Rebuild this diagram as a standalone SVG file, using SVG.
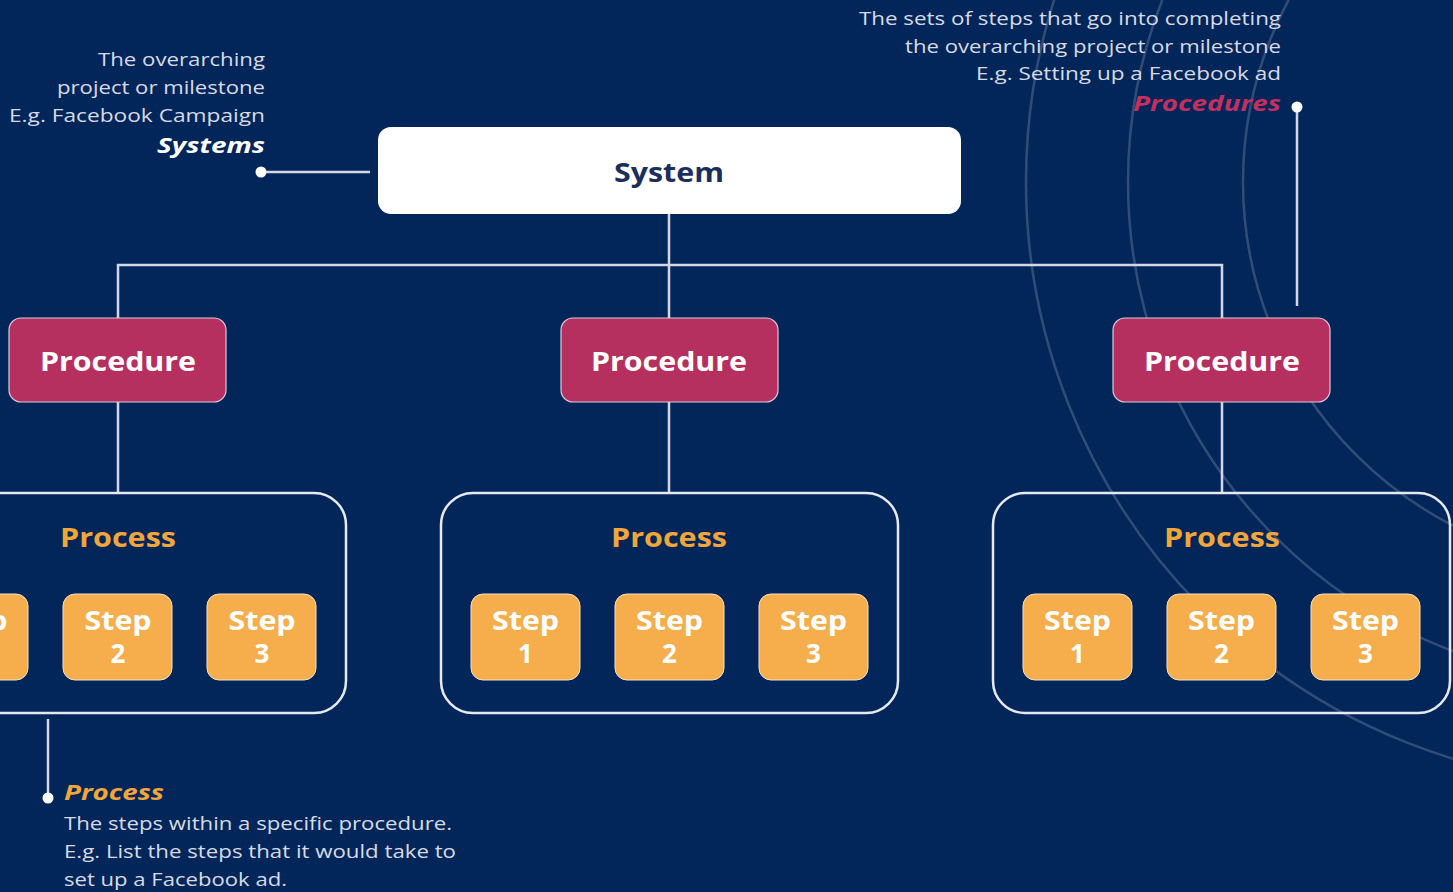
<svg xmlns="http://www.w3.org/2000/svg" width="1453" height="892" viewBox="0 0 1453 892">
<style>
.bg{fill:#03265a}
.arc{fill:none;stroke:#ffffff;stroke-opacity:0.18;stroke-width:2.5}
.conn{fill:none;stroke:#d3d8e4;stroke-width:2.5}
.dot{fill:#ffffff}
.sys{fill:#ffffff}
.proc{fill:#b5305f;stroke:#d9c9d6;stroke-width:1.2}
.pbox{fill:none;stroke:#e6e9f0;stroke-width:2.5}
.step{fill:#f5ae4b;stroke:#f3e2c6;stroke-width:1}
.lbl{font-family:"Open Sans","Liberation Sans",sans-serif;font-weight:700;text-anchor:middle}
.note{font-family:"Open Sans","Liberation Sans",sans-serif;font-size:18.5px;fill:#d7dbe5}
.title{font-family:"Open Sans","Liberation Sans",sans-serif;font-weight:700;font-style:italic;font-size:22px}
</style>
<rect class="bg" x="0" y="0" width="1453" height="892"/>
<g id="decor">
<circle class="arc" cx="1629" cy="182" r="603"/>
<circle class="arc" cx="1629" cy="182" r="501"/>
<circle class="arc" cx="1629" cy="182" r="386"/>
</g>
<g id="connectors">
<path class="conn" d="M669 214 V265 M118 318 V265 H1222 V318 M669 265 V318"/>
<path class="conn" d="M118 402 V493 M669 402 V493 M1222 402 V493"/>
<path class="conn" d="M261 172 H370"/>
<circle class="dot" cx="261" cy="172" r="5.5"/>
<path class="conn" d="M1297 107 V306"/>
<circle class="dot" cx="1297" cy="107" r="5.5"/>
<path class="conn" d="M48 719 V798"/>
<circle class="dot" cx="48" cy="798" r="5.5"/>
</g>
<g id="system">
<rect class="sys" x="378" y="127" width="583" height="87" rx="13"/>
<text class="lbl" x="669" y="182" font-size="27" fill="#1c2f5c" textLength="110" lengthAdjust="spacingAndGlyphs">System</text>
</g>
<g id="procedure-1">
<rect class="proc" x="9" y="318" width="217" height="84" rx="12"/>
<text class="lbl" x="118" y="371" font-size="27" fill="#ffffff" textLength="156" lengthAdjust="spacingAndGlyphs">Procedure</text>
</g>
<g id="procedure-2">
<rect class="proc" x="561" y="318" width="217" height="84" rx="12"/>
<text class="lbl" x="669" y="371" font-size="27" fill="#ffffff" textLength="156" lengthAdjust="spacingAndGlyphs">Procedure</text>
</g>
<g id="procedure-3">
<rect class="proc" x="1113" y="318" width="217" height="84" rx="12"/>
<text class="lbl" x="1222" y="371" font-size="27" fill="#ffffff" textLength="156" lengthAdjust="spacingAndGlyphs">Procedure</text>
</g>
<g id="process-1">
<rect class="pbox" x="-110" y="493" width="456" height="220" rx="32"/>
<text class="lbl" x="118" y="547" font-size="27" fill="#f0a63a" textLength="116" lengthAdjust="spacingAndGlyphs">Process</text>
<rect class="step" x="-81" y="594" width="109" height="86" rx="12"/>
<text class="lbl" x="-26" y="630" font-size="26" fill="#ffffff" textLength="67" lengthAdjust="spacingAndGlyphs">Step</text>
<text class="lbl" x="-26" y="663" font-size="26" fill="#ffffff">1</text>
<rect class="step" x="63" y="594" width="109" height="86" rx="12"/>
<text class="lbl" x="118" y="630" font-size="26" fill="#ffffff" textLength="67" lengthAdjust="spacingAndGlyphs">Step</text>
<text class="lbl" x="118" y="663" font-size="26" fill="#ffffff">2</text>
<rect class="step" x="207" y="594" width="109" height="86" rx="12"/>
<text class="lbl" x="262" y="630" font-size="26" fill="#ffffff" textLength="67" lengthAdjust="spacingAndGlyphs">Step</text>
<text class="lbl" x="262" y="663" font-size="26" fill="#ffffff">3</text>
</g>
<g id="process-2">
<rect class="pbox" x="441" y="493" width="457" height="220" rx="32"/>
<text class="lbl" x="669" y="547" font-size="27" fill="#f0a63a" textLength="116" lengthAdjust="spacingAndGlyphs">Process</text>
<rect class="step" x="471" y="594" width="109" height="86" rx="12"/>
<text class="lbl" x="525.5" y="630" font-size="26" fill="#ffffff" textLength="67" lengthAdjust="spacingAndGlyphs">Step</text>
<text class="lbl" x="525.5" y="663" font-size="26" fill="#ffffff">1</text>
<rect class="step" x="615" y="594" width="109" height="86" rx="12"/>
<text class="lbl" x="669.5" y="630" font-size="26" fill="#ffffff" textLength="67" lengthAdjust="spacingAndGlyphs">Step</text>
<text class="lbl" x="669.5" y="663" font-size="26" fill="#ffffff">2</text>
<rect class="step" x="759" y="594" width="109" height="86" rx="12"/>
<text class="lbl" x="813.5" y="630" font-size="26" fill="#ffffff" textLength="67" lengthAdjust="spacingAndGlyphs">Step</text>
<text class="lbl" x="813.5" y="663" font-size="26" fill="#ffffff">3</text>
</g>
<g id="process-3">
<rect class="pbox" x="993" y="493" width="457" height="220" rx="32"/>
<text class="lbl" x="1222" y="547" font-size="27" fill="#f0a63a" textLength="116" lengthAdjust="spacingAndGlyphs">Process</text>
<rect class="step" x="1023" y="594" width="109" height="86" rx="12"/>
<text class="lbl" x="1077.5" y="630" font-size="26" fill="#ffffff" textLength="67" lengthAdjust="spacingAndGlyphs">Step</text>
<text class="lbl" x="1077.5" y="663" font-size="26" fill="#ffffff">1</text>
<rect class="step" x="1167" y="594" width="109" height="86" rx="12"/>
<text class="lbl" x="1221.5" y="630" font-size="26" fill="#ffffff" textLength="67" lengthAdjust="spacingAndGlyphs">Step</text>
<text class="lbl" x="1221.5" y="663" font-size="26" fill="#ffffff">2</text>
<rect class="step" x="1311" y="594" width="109" height="86" rx="12"/>
<text class="lbl" x="1365.5" y="630" font-size="26" fill="#ffffff" textLength="67" lengthAdjust="spacingAndGlyphs">Step</text>
<text class="lbl" x="1365.5" y="663" font-size="26" fill="#ffffff">3</text>
</g>
<g id="note-systems">
<text class="note" x="265" y="66" text-anchor="end" textLength="167" lengthAdjust="spacingAndGlyphs">The overarching</text>
<text class="note" x="265" y="94" text-anchor="end" textLength="208" lengthAdjust="spacingAndGlyphs">project or milestone</text>
<text class="note" x="265" y="122" text-anchor="end" textLength="256" lengthAdjust="spacingAndGlyphs">E.g. Facebook Campaign</text>
<text class="title" x="265" y="153" text-anchor="end" fill="#ffffff" textLength="108" lengthAdjust="spacingAndGlyphs">Systems</text>
</g>
<g id="note-procedures">
<text class="note" x="1281" y="25" text-anchor="end" textLength="422" lengthAdjust="spacingAndGlyphs">The sets of steps that go into completing</text>
<text class="note" x="1281" y="53" text-anchor="end" textLength="376" lengthAdjust="spacingAndGlyphs">the overarching project or milestone</text>
<text class="note" x="1281" y="80" text-anchor="end" textLength="305" lengthAdjust="spacingAndGlyphs">E.g. Setting up a Facebook ad</text>
<text class="title" x="1281" y="111" text-anchor="end" fill="#c2305f" textLength="148" lengthAdjust="spacingAndGlyphs">Procedures</text>
</g>
<g id="note-process">
<text class="title" x="64" y="800" fill="#f0a63a" textLength="100" lengthAdjust="spacingAndGlyphs">Process</text>
<text class="note" x="64" y="830" textLength="388" lengthAdjust="spacingAndGlyphs">The steps within a specific procedure.</text>
<text class="note" x="64" y="858" textLength="392" lengthAdjust="spacingAndGlyphs">E.g. List the steps that it would take to</text>
<text class="note" x="64" y="886" textLength="223" lengthAdjust="spacingAndGlyphs">set up a Facebook ad.</text>
</g>
</svg>
